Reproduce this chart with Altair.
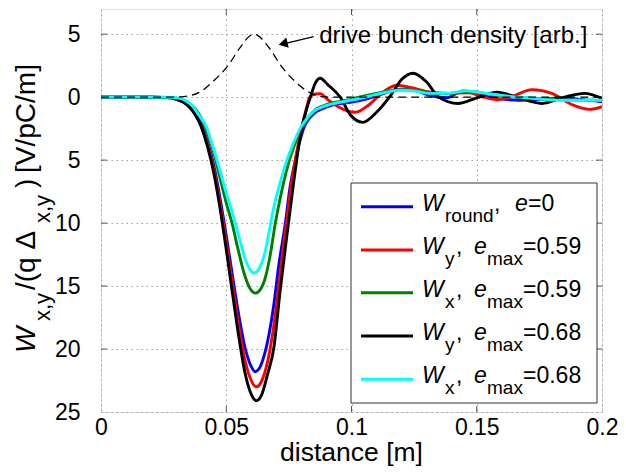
import altair as alt
import pandas as pd

# ---------------- data ----------------
blue_x = [0, 0.02, 0.028, 0.030, 0.0325, 0.035, 0.0375, 0.040, 0.0425, 0.045, 0.0475, 0.050, 0.0525,
          0.055, 0.0575, 0.060, 0.0615, 0.063, 0.065, 0.067, 0.0689, 0.071, 0.0736, 0.0755, 0.0776,
          0.0795, 0.0809, 0.0835, 0.0862, 0.0875, 0.093, 0.100, 0.105, 0.110, 0.115, 0.120, 0.125,
          0.131, 0.138, 0.1445, 0.149, 0.155, 0.167, 0.183, 0.200]
blue_v = [0, 0, -0.05, -0.15, -0.32, -0.65, -1.2, -2.1, -3.5, -5.4, -8.0, -11.0, -14.2,
          -17.3, -19.9, -21.4, -21.8, -21.6, -20.6, -18.9, -16.6, -13.3, -10.0, -7.1, -5.0,
          -3.4, -2.46, -1.6, -1.12, -1.0, -0.6, -0.4, -0.2, 0.1, 0.45, 0.62, 0.55,
          0.15, -0.05, 0.5, 0.35, 0.0, -0.24, -0.1, -0.37]

red_x = [0, 0.02, 0.028, 0.030, 0.0325, 0.035, 0.0375, 0.040, 0.0425, 0.045, 0.0475, 0.050, 0.0525,
         0.055, 0.0575, 0.060, 0.062, 0.064, 0.0665, 0.0685, 0.070, 0.072, 0.074, 0.076, 0.078,
         0.080, 0.082, 0.0833, 0.0855, 0.0875, 0.0905, 0.095, 0.1015, 0.107, 0.112, 0.118, 0.124,
         0.131, 0.139, 0.147, 0.152, 0.158, 0.164, 0.172, 0.180, 0.188, 0.195, 0.200]
red_v = [0, 0, -0.05, -0.17, -0.35, -0.7, -1.3, -2.25, -3.7, -5.7, -8.4, -11.5, -14.9,
         -18.2, -20.9, -22.5, -23.0, -22.6, -21.0, -18.8, -16.6, -13.2, -10.0, -6.9, -4.5,
         -2.5, -0.9, 0.0, 0.25, 0.28, -0.2, -0.8, -1.2, -0.6, 0.3, 0.95, 0.75,
         0.42, 0.3, 0.35, 0.05, -0.2, 0.05, 0.6, 0.3, -0.6, -0.97, -0.75]

green_x = [0, 0.02, 0.028, 0.030, 0.0325, 0.035, 0.0375, 0.040, 0.0425, 0.045, 0.0475, 0.050, 0.0523,
           0.0545, 0.057, 0.0595, 0.0616, 0.0635, 0.0655, 0.0675, 0.0696, 0.0722, 0.0752, 0.0802,
           0.085, 0.090, 0.095, 0.100, 0.110, 0.120, 0.127, 0.133, 0.140, 0.147, 0.158, 0.170,
           0.183, 0.200]
green_v = [0, 0, -0.03, -0.08, -0.2, -0.45, -0.9, -1.65, -2.8, -4.4, -6.4, -8.4, -10.0,
           -11.9, -13.9, -15.2, -15.56, -15.3, -14.4, -12.6, -10.0, -7.4, -5.0, -2.46,
           -1.1, -0.6, -0.35, -0.15, 0.3, 0.6, 0.5, 0.3, 0.3, 0.45, 0.15, -0.05,
           -0.2, -0.25]

black_x = [0, 0.02, 0.028, 0.030, 0.0325, 0.035, 0.0375, 0.040, 0.0425, 0.045, 0.0475, 0.050, 0.0525,
           0.055, 0.0575, 0.060, 0.062, 0.064, 0.0665, 0.069, 0.0715, 0.074, 0.0765, 0.079, 0.0802,
           0.082, 0.0836, 0.0855, 0.0875, 0.0905, 0.0955, 0.0995, 0.1045, 0.110, 0.1155, 0.120,
           0.1245, 0.130, 0.1348, 0.1425, 0.150, 0.158, 0.166, 0.176, 0.185, 0.193, 0.200]
black_v = [0, 0, -0.05, -0.18, -0.37, -0.73, -1.35, -2.35, -3.9, -6.0, -8.8, -12.1, -15.6,
           -19.0, -21.9, -23.6, -24.1, -23.7, -22.0, -19.9, -15.4, -11.3, -7.4, -3.8, -2.46,
           -1.0, 0.0, 1.1, 1.5, 1.0, 0.0, -1.4, -2.0, -1.2, 0.1, 1.4,
           1.9, 1.2, 0.0, -0.5, -0.05, 0.4, 0.0, -0.5, 0.0, 0.3, -0.1]

cyan_x = [0, 0.02, 0.028, 0.030, 0.0317, 0.034, 0.0365, 0.039, 0.0423, 0.044, 0.0463, 0.048, 0.050,
          0.052, 0.0536, 0.0555, 0.0575, 0.0595, 0.061, 0.0625, 0.064, 0.0655, 0.067, 0.0685, 0.070,
          0.0722, 0.0742, 0.0765, 0.0796, 0.0825, 0.0849, 0.0875, 0.0942, 0.101, 0.1065, 0.1115,
          0.1195, 0.125, 0.131, 0.138, 0.146, 0.152, 0.159, 0.170, 0.183, 0.200]
cyan_v = [0, 0, -0.02, -0.05, -0.1, -0.3, -0.7, -1.4, -2.46, -3.5, -5.0, -6.2, -7.6,
          -8.9, -10.0, -11.4, -12.8, -13.7, -13.96, -13.8, -13.25, -12.3, -10.8, -9.2, -7.9,
          -6.3, -5.0, -3.8, -2.46, -1.6, -1.12, -0.85, -0.45, -0.2, 0.05, 0.29,
          0.55, 0.5, 0.3, 0.3, 0.5, 0.35, 0.16, -0.05, -0.24, -0.24]

bunch_x = [0, 0.028, 0.033, 0.0396, 0.045, 0.0503, 0.0556, 0.0596, 0.061, 0.0625, 0.067, 0.0722,
           0.0772, 0.0825, 0.088, 0.093, 0.2]
bunch_v = [0, 0, 0.05, 0.42, 1.3, 2.4, 3.95, 4.9, 5.0, 4.9, 3.95, 2.4, 1.3, 0.45, 0.05, 0, 0]

series_colors = ["#0000ff", "#ff0000", "#008000", "#000000", "#00ffff"]
legend_sub = ["round", "y", "x", "y", "x"]
legend_val = ["=0", "=0.59", "=0.59", "=0.68", "=0.68"]

x_ticks = [0, 0.05, 0.1, 0.15, 0.2]
y_ticks = [5, 0, -5, -10, -15, -20, -25]

FONT = "Liberation Sans"
W, H = 501, 403

xs = alt.Scale(domain=[0, 0.2], nice=False, zero=False)
ys = alt.Scale(domain=[-25, 7], nice=False, zero=False)
x_axis = alt.Axis(values=x_ticks, labelExpr="'' + datum.value", title=None, grid=True,
                  gridDash=[1.5, 3.5], gridColor="#a0a0a0", ticks=False, tickSize=0, domain=False,
                  labelFontSize=23, labelFont=FONT, labelColor="#000", labelPadding=4,
                  labelFlush=False, labelOverlap=False)
y_axis = alt.Axis(values=y_ticks, labelExpr="'' + abs(datum.value)", title=None, grid=True,
                  gridDash=[1.5, 3.5], gridColor="#a0a0a0", ticks=False, tickSize=0, domain=False,
                  labelFontSize=23, labelFont=FONT, labelColor="#000", labelPadding=21,
                  labelOverlap=False)
X = alt.X("x:Q", scale=xs, axis=x_axis)
Y = alt.Y("v:Q", scale=ys, axis=y_axis)

one = pd.DataFrame({"k": [0]})

layers = []

# inner ticks (MATLAB style)
xt = pd.DataFrame({"x": x_ticks[1:-1]})
yt = pd.DataFrame({"v": y_ticks[:-1]})
for ya, yb in [(H - 6, H), (0, 6)]:
    layers.append(alt.Chart(xt).mark_rule(color="#555", strokeWidth=1).encode(
        x=X, y=alt.value(ya), y2=alt.value(yb)))
for xa, xb in [(0, 6), (W - 6, W)]:
    layers.append(alt.Chart(yt).mark_rule(color="#555", strokeWidth=1).encode(
        y=Y, x=alt.value(xa), x2=alt.value(xb)))

for xv, vv, col in [(blue_x, blue_v, series_colors[0]), (red_x, red_v, series_colors[1]),
                    (green_x, green_v, series_colors[2]), (black_x, black_v, series_colors[3]),
                    (cyan_x, cyan_v, series_colors[4])]:
    df = pd.DataFrame({"x": xv, "v": vv})
    layers.append(alt.Chart(df).mark_line(color=col, strokeWidth=2.9, interpolate="monotone",
                                          clip=True).encode(x=X, y=Y))

layers.append(alt.Chart(pd.DataFrame({"x": bunch_x, "v": bunch_v})).mark_line(
    color="#000", strokeWidth=1.3, strokeDash=[8, 5], interpolate="monotone").encode(x=X, y=Y))

# annotation
layers.append(alt.Chart(pd.DataFrame({"x": [0.0849, 0.0729], "v": [4.8, 4.24]})).mark_line(
    color="#000", strokeWidth=1.3).encode(x=X, y=Y))
layers.append(alt.Chart(pd.DataFrame({"x": [0.0727], "v": [4.25]})).mark_point(
    shape="triangle-left", filled=True, size=110, angle=346.7, color="#000", opacity=1).encode(x=X, y=Y))
layers.append(alt.Chart(pd.DataFrame({"x": [0.0871], "v": [4.28]})).mark_text(
    text="drive bunch density [arb.]", fontSize=24, font=FONT, align="left",
    baseline="alphabetic", color="#000").encode(x=X, y=Y))


def txt(s, x, y, size, italic=False, angle=0, align="left"):
    return alt.Chart(one).mark_text(text=s, fontSize=size, font=FONT,
                                    fontStyle="italic" if italic else "normal",
                                    angle=angle, align=align, baseline="alphabetic",
                                    color="#000").encode(x=alt.value(x), y=alt.value(y))


# legend
layers.append(alt.Chart(one).mark_rect(fill="white", stroke="#333", strokeWidth=1).encode(
    x=alt.value(250), x2=alt.value(496), y=alt.value(174), y2=alt.value(394)))
rows = [197.7, 241, 283.7, 327, 370.3]
for i, yr in enumerate(rows):
    layers.append(alt.Chart(one).mark_rule(color=series_colors[i], strokeWidth=3).encode(
        x=alt.value(260), x2=alt.value(312), y=alt.value(yr)))
    layers.append(txt("W", 321, yr + 4, 23, italic=True))
    layers.append(txt(legend_sub[i], 344, yr + 15, 19))
    if i == 0:
        layers.append(txt(",", 393, yr + 4, 23))
        layers.append(txt("e", 414, yr + 4, 23, italic=True))
        layers.append(txt(legend_val[i], 427, yr + 4, 23))
    else:
        layers.append(txt(",", 355, yr + 4, 23))
        layers.append(txt("e", 373, yr + 4, 23, italic=True))
        layers.append(txt("max", 386, yr + 15, 19))
        layers.append(txt(legend_val[i], 422, yr + 4, 23))

# axis titles
layers.append(txt("distance [m]", W / 2, 452, 26.5, align="center"))
layers.append(txt("W", -66, 344, 28, italic=True, angle=270))
layers.append(txt("x,y", -51, 312, 22, angle=270))
layers.append(txt("/(q Δ", -66, 281, 28, angle=270))
layers.append(txt("x,y", -51, 214, 22, angle=270))
layers.append(txt(")", -66, 179, 28, angle=270))
layers.append(txt("[V/pC/m]", -66, 164, 28, angle=270))

chart = alt.layer(*layers).properties(
    width=W, height=H,
    padding={"left": 93, "top": 1, "right": 16, "bottom": 54},
    autosize=alt.AutoSizeParams(type="none"),
).configure_view(stroke="#444", strokeWidth=1).configure(background="white")

chart.save("out.html", embed_options={"renderer": "svg", "actions": False})
